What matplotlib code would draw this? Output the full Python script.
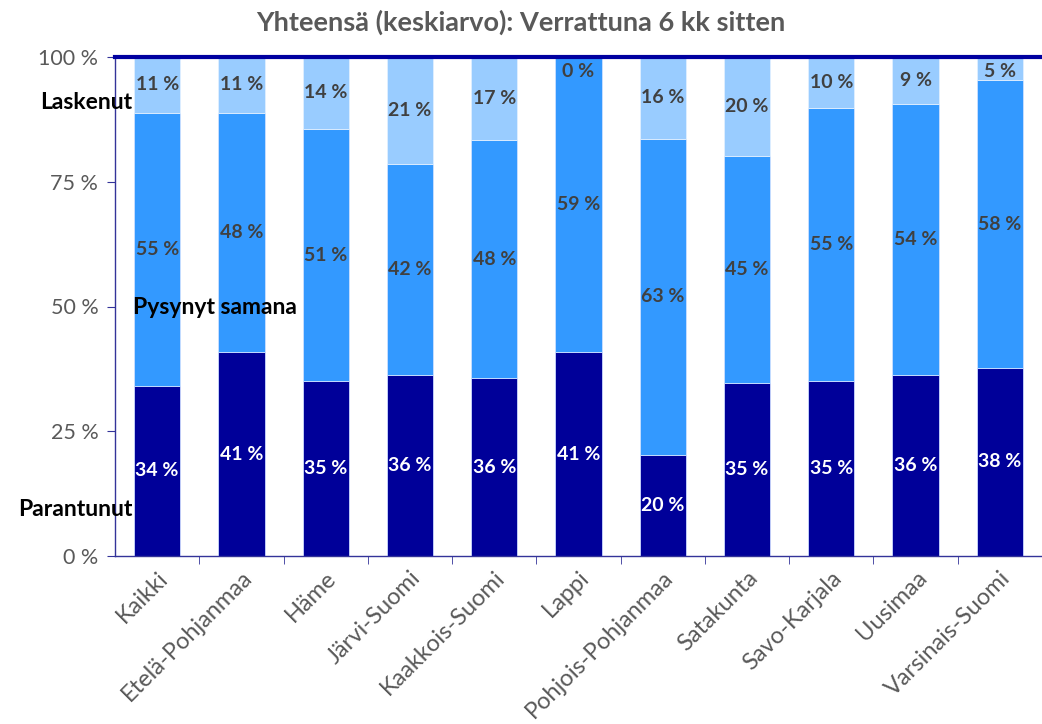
import numpy as np
import matplotlib.pyplot as plt

plt.rcParams['font.family'] = ['Lato', 'DejaVu Sans']

regions = ["Kaikki", "Etelä-Pohjanmaa", "Häme", "Järvi-Suomi", "Kaakkois-Suomi",
           "Lappi", "Pohjois-Pohjanmaa", "Satakunta", "Savo-Karjala", "Uusimaa",
           "Varsinais-Suomi"]
parantunut = [34.1, 40.8, 35.0, 36.2, 35.6, 40.8, 20.3, 34.7, 35.1, 36.3, 37.7]
pysynyt = [54.7, 48.0, 50.6, 42.4, 47.8, 59.2, 63.3, 45.4, 54.6, 54.3, 57.6]
laskenut = [11.2, 11.2, 14.4, 21.4, 16.6, 0.0, 16.4, 19.9, 10.3, 9.4, 4.7]

c_dark = '#000099'
c_mid = '#3399ff'
c_light = '#99ccff'
grey = '#595959'

fig = plt.figure(figsize=(10.42, 7.24), dpi=100)
ax = fig.add_axes([115 / 1042, 1 - 556 / 724, 1 - 115 / 1042, (556 - 57) / 724])

x = np.arange(len(regions))
w = 0.55
p = np.array(parantunut)
m = np.array(pysynyt)
l = np.array(laskenut)
ax.bar(x, p, w, color=c_dark, edgecolor='#ccd9ff', linewidth=0.6, zorder=2)
ax.bar(x, m, w, bottom=p, color=c_mid, edgecolor='#cce0ff', linewidth=0.6, zorder=2)
ax.bar(x, l, w, bottom=p + m, color=c_light, edgecolor='#e0efff', linewidth=0.6, zorder=2)

for i in range(len(regions)):
    ax.text(x[i], p[i] / 2, f"{p[i]:.0f} %", ha='center', va='center',
            color='white', fontsize=14, fontweight='bold', zorder=3)
    ax.text(x[i], p[i] + m[i] / 2, f"{m[i]:.0f} %", ha='center', va='center',
            color='#404040', fontsize=14, fontweight='bold', zorder=3)
    yc = min(p[i] + m[i] + l[i] / 2, 97.0)
    ax.text(x[i], yc, f"{l[i]:.0f} %", ha='center', va='center',
            color='#404040', fontsize=14, fontweight='bold', zorder=3)

ax.set_xlim(-0.5, len(regions) - 0.5)
ax.set_ylim(0, 100)
ax.set_yticks([0, 25, 50, 75, 100])
ax.set_yticklabels(["0 %", "25 %", "50 %", "75 %", "100 %"], color=grey, fontsize=15.5)
ax.set_xticks(x)
ax.set_xticklabels(regions, rotation=45, ha='right', rotation_mode='anchor',
                   color=grey, fontsize=17)
ax.set_xticks(np.arange(0.5, len(regions) - 0.5, 1), minor=True)
ax.tick_params(axis='x', which='major', length=0, pad=8)
ax.tick_params(axis='x', which='minor', length=6, color='#333399', direction='out')
ax.tick_params(axis='y', length=6, color='#333399', direction='out', pad=6)

for s in ['top', 'right']:
    ax.spines[s].set_visible(False)
for s in ['left', 'bottom']:
    ax.spines[s].set_color('#333399')
    ax.spines[s].set_linewidth(1.0)
ax.axhline(100, color='#0000a0', linewidth=3, zorder=4, clip_on=False)

ax.text(-0.29, 90.8, "Laskenut", ha='right', va='center', fontsize=16.5,
        fontweight='bold', color='black', zorder=5, clip_on=False)
ax.text(-0.29, 49.7, "Pysynyt samana", ha='left', va='center', fontsize=16.5,
        fontweight='bold', color='black', zorder=5, clip_on=False)
ax.text(-0.29, 9.4, "Parantunut", ha='right', va='center', fontsize=16.5,
        fontweight='bold', color='black', zorder=5, clip_on=False)

fig.text(0.5, 1 - 22 / 724, "Yhteensä (keskiarvo): Verrattuna 6 kk sitten",
         ha='center', va='center', fontsize=19.5, fontweight='bold', color=grey)

fig.savefig("out.png", dpi=100)
